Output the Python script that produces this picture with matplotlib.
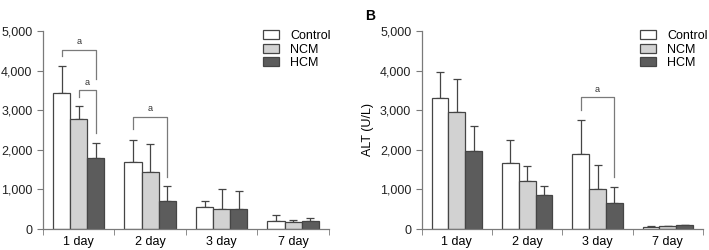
import matplotlib.pyplot as plt
import numpy as np

plt.rcParams["font.family"] = ["Liberation Sans", "DejaVu Sans"]
plt.rcParams["font.size"] = 8.5

days = ["1 day", "2 day", "3 day", "7 day"]
groups = ["Control", "NCM", "HCM"]

# panel A
a_mean = {
    "Control": [3440, 1700, 560, 200],
    "NCM": [2780, 1430, 505, 185],
    "HCM": [1790, 715, 505, 210],
}
a_err = {
    "Control": [680, 560, 150, 150],
    "NCM": [330, 710, 505, 45],
    "HCM": [390, 365, 455, 60],
}
# brackets: (day index, group from, group to, top, left leg bottom, right leg bottom)
a_sig = [
    (0, 0, 2, 4530, 4380, 3790),
    (0, 1, 2, 3500, 3340, 2430),
    (1, 0, 2, 2840, 2520, 1320),
]

# panel B
b_mean = {
    "Control": [3320, 1660, 1900, 60],
    "NCM": [2950, 1200, 1020, 65],
    "HCM": [1970, 860, 660, 90],
}
b_err = {
    "Control": [650, 600, 840, 15],
    "NCM": [850, 390, 600, 15],
    "HCM": [630, 230, 410, 20],
}
b_sig = [
    (2, 0, 2, 3330, 3000, 1320),
]

colors = {"Control": "white", "NCM": "#d2d2d2", "HCM": "#5c5c5c"}
edge = "#454545"
axis_col = "#7a7a7a"

fig = plt.figure(figsize=(7.09, 2.5), dpi=100)
ax_a = fig.add_axes([0.0606, 0.084, 0.4034, 0.792])
ax_b = fig.add_axes([0.5948, 0.084, 0.3967, 0.792])

bar_w = 0.24
offsets = np.array([-1, 0, 1]) * bar_w
x = np.arange(len(days))


def draw(ax, mean, err, sig, leg_x):
    for k, g in enumerate(groups):
        ax.bar(x + offsets[k], mean[g], bar_w, color=colors[g], edgecolor=edge,
               linewidth=0.9, label=g, zorder=2)
        ax.errorbar(x + offsets[k], mean[g], yerr=[np.zeros(len(days)), err[g]],
                    fmt="none", ecolor=edge, elinewidth=0.9, capsize=3,
                    capthick=0.9, zorder=1)
    for d, g0, g1, top, lb, rb in sig:
        x0 = d + offsets[g0]
        x1 = d + offsets[g1]
        ax.plot([x0, x0, x1, x1], [lb, top, top, rb], color=axis_col, lw=0.9)
        ax.text((x0 + x1) / 2, top + 90, "a", ha="center", va="bottom",
                fontsize=6.5, color="#333333")

    ax.set_xlim(-0.5, len(days) - 0.5)
    ax.set_ylim(0, 5000)
    ax.set_yticks(np.arange(0, 5001, 1000))
    ax.set_yticklabels([f"{v:,}" for v in range(0, 5001, 1000)])
    ax.set_xticks(x)
    ax.set_xticklabels(days)
    ax.set_xticks(np.arange(-0.5, len(days)), minor=True)
    ax.tick_params(axis="x", which="major", length=0, pad=5, labelsize=9)
    ax.tick_params(axis="x", which="minor", length=4, color=axis_col,
                   direction="out")
    ax.tick_params(axis="y", length=4, color=axis_col, direction="out",
                   labelsize=9, labelcolor="#222222")
    for s in ["top", "right"]:
        ax.spines[s].set_visible(False)
    for s in ["left", "bottom"]:
        ax.spines[s].set_color(axis_col)
        ax.spines[s].set_linewidth(0.9)
    ax.legend(loc="upper left", bbox_to_anchor=(leg_x, 1.005), frameon=False,
              fontsize=9, handlelength=1.3, handleheight=0.75,
              handletextpad=0.9, labelspacing=0.12, borderpad=0,
              borderaxespad=0)


draw(ax_a, a_mean, a_err, a_sig, 0.769)
draw(ax_b, b_mean, b_err, b_sig, 0.776)

ax_b.set_ylabel("ALT (U/L)", fontsize=9, labelpad=4)
fig.text(0.515, 0.935, "B", fontsize=10, fontweight="bold", ha="left",
         va="center")

fig.savefig("out.png", dpi=100)
plt.close()
